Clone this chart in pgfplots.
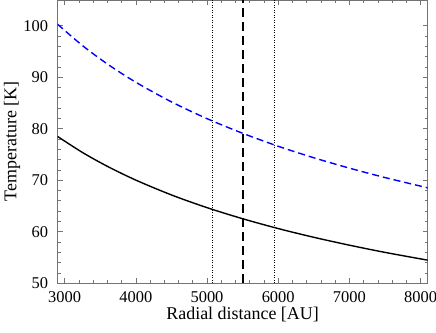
\documentclass[border=0pt]{standalone}
\usepackage{pgfplots}
\pgfplotsset{compat=1.18}
\usepackage{fontspec}
\setmainfont{Liberation Serif}
\definecolor{framegray}{gray}{0.45}
\begin{document}
\begin{tikzpicture}
\begin{axis}[
    scale only axis,
    width=370bp, height=283bp,
    xmin=2900, xmax=8100,
    ymin=50, ymax=105,
    xtick={3000,4000,5000,6000,7000,8000},
    ytick={50,60,70,80,90,100},
    minor x tick num=4,
    minor y tick num=4,
    tick align=inside,
    major tick length=5bp,
    minor tick length=3bp,
    axis line style={framegray, line width=0.8bp},
    every tick/.style={framegray, line width=0.6bp},
    tick label style={font=\fontsize{16.5}{18}\selectfont},
    xticklabel style={yshift=-5bp},
    yticklabel style={xshift=-6bp},
    /pgf/number format/assume math mode=true,
    /pgf/number format/1000 sep={},
    xlabel={Radial distance [AU]},
    ylabel={Temperature [K]},
    label style={font=\fontsize{18}{20}\selectfont},
    xlabel style={at={(axis description cs:0.5,-0.111)}, anchor=center},
    ylabel style={at={(axis description cs:-0.123,0.5)}, anchor=center},
    clip=true,
]
\addplot[blue, line width=1.4bp, dash pattern=on 7bp off 4bp, smooth] coordinates {
    (2900,100.3) (3250,96.15) (3600,92.57) (4000,89.02) (4500,85.21)
    (5000,81.95) (5500,79.11) (6000,76.59) (6500,74.35) (7000,72.34)
    (7500,70.51) (8100,68.51)
};
\addplot[black, line width=1.4bp, smooth] coordinates {
    (2900,78.5) (3250,75.38) (3600,72.69) (4000,70.01) (4500,67.13)
    (5000,64.66) (5500,62.51) (6000,60.60) (6500,58.90) (7000,57.37)
    (7500,55.97) (8100,54.46)
};
\addplot[black, line width=0.9bp, dash pattern=on 0.9bp off 1.6bp] coordinates {(5073,50) (5073,105)};
\addplot[black, line width=1.4bp, dash pattern=on 9bp off 5bp] coordinates {(5505,50) (5505,105)};
\addplot[black, line width=0.9bp, dash pattern=on 0.9bp off 1.6bp] coordinates {(5945,50) (5945,105)};
\end{axis}
\pgfresetboundingbox
\path ([xshift=-57.5bp,yshift=-49.3bp]current axis.south west) rectangle ([xshift=8.3bp]current axis.north east);
\end{tikzpicture}
\end{document}
